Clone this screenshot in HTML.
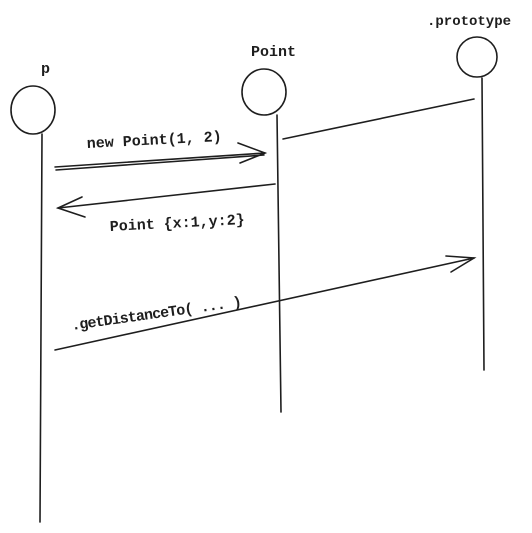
<!DOCTYPE html>
<html><head><meta charset="utf-8"><style>
body{margin:0;background:#fff;width:532px;height:533px;overflow:hidden}
svg{display:block}
text{font-family:"Liberation Mono",monospace;font-size:15px;font-weight:bold;fill:#1e1e1e}
</style></head><body>
<svg width="532" height="533" viewBox="0 0 532 533" fill="none" stroke="#1e1e1e" stroke-width="1.6" stroke-linecap="round">
<ellipse cx="33" cy="110" rx="22" ry="24"/>
<ellipse cx="264" cy="92" rx="22" ry="23"/>
<ellipse cx="477" cy="57" rx="20" ry="20"/>
<path d="M42 134 L40 522"/>
<path d="M277 115 L281 412"/>
<path d="M482 78 L484 370"/>
<path d="M55 167 L265 153 M56 170 L264 155"/>
<path d="M238 143 L265 153 L240 163"/>
<path d="M283 139 L474 99"/>
<path d="M275 184 L58 208"/>
<path d="M82 197 L58 208 L85 217"/>
<path d="M55 350 L474 258"/>
<path d="M446 256 L474 258 L451 272"/>
<g stroke="none">
<text x="41" y="73">p</text>
<text x="251" y="56">Point</text>
<text x="427" y="25" style="font-size:14px">.prototype</text>
<text x="87" y="148" transform="rotate(-3 87 148)">new Point(1, 2)</text>
<text x="110" y="231" transform="rotate(-3 110 231)">Point {x:1,y:2}</text>
<text x="72" y="330" transform="rotate(-8 72 330)" textLength="172">.getDistanceTo( ... )</text>
</g>
</svg>
</body></html>
